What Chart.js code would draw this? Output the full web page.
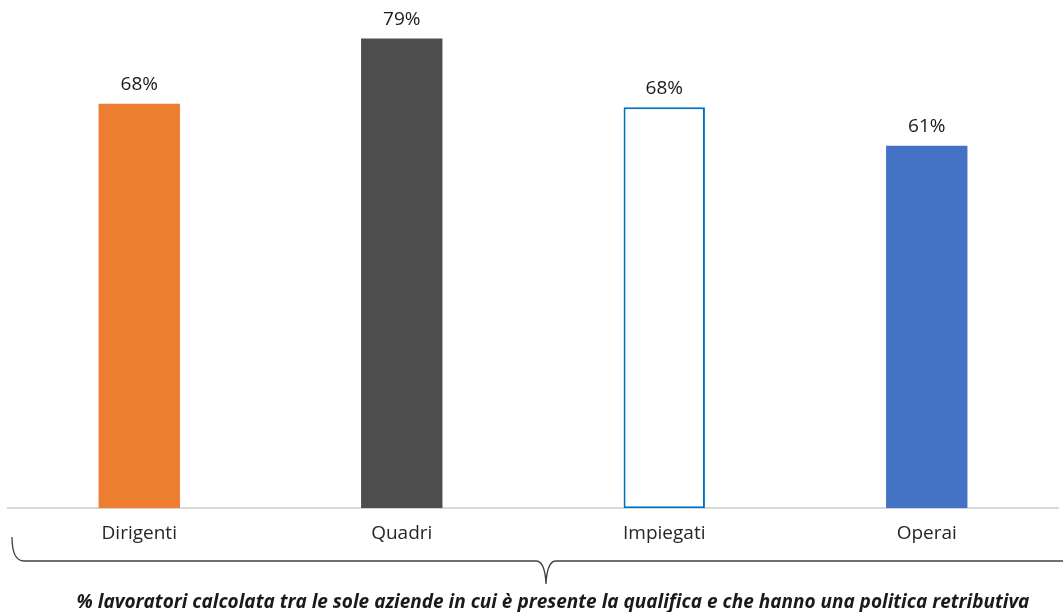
<!DOCTYPE html>
<html>
<head>
<meta charset="utf-8">
<script src="https://cdn.jsdelivr.net/npm/chart.js@4"></script>
<style>
  html,body{margin:0;padding:0;background:#fff;}
  #wrap{position:relative;width:1063px;height:612px;}
  #note{position:absolute;left:0;width:1106px;top:589px;text-align:center;font-family:"Open Sans",sans-serif;font-style:italic;font-weight:bold;font-size:19px;line-height:24px;color:#1a1a1a;white-space:nowrap;}
</style>
</head>
<body>
<div id="wrap">
<canvas id="c" width="1063" height="612"></canvas>
<div id="note">% lavoratori calcolata tra le sole aziende in cui è presente la qualifica e che hanno una politica retributiva</div>
</div>
<script>
const categories = ["Dirigenti", "Quadri", "Impiegati", "Operai"];
const values = [68.2, 79.2, 67.6, 61.1];
const valueLabels = ["68%", "79%", "68%", "61%"];
const fillColors = ["#ED7D31", "#4D4D4D", "#FFFFFF", "#4472C4"];
const borderColors = ["#ED7D31", "#4D4D4D", "#0070C0", "#4472C4"];
const borderWidths = [0, 0, 2, 0];

const labelPlugin = {
  id: "valueLabels",
  afterDatasetsDraw(chart) {
    const ctx = chart.ctx;
    const meta = chart.getDatasetMeta(0);
    ctx.save();
    ctx.font = '19px "Open Sans", sans-serif';
    ctx.fillStyle = "#1a1a1a";
    ctx.textAlign = "center";
    ctx.textBaseline = "middle";
    meta.data.forEach((el, i) => {
      ctx.fillText(valueLabels[i], el.x, el.y - 19);
    });
    ctx.restore();
  }
};

const bracePlugin = {
  id: "brace",
  afterDraw(chart) {
    const ctx = chart.ctx;
    ctx.save();
    ctx.strokeStyle = "#404040";
    ctx.lineWidth = 1.3;
    const y = 561, tipX = 546, tipY = 584;
    ctx.beginPath();
    ctx.moveTo(12, 537);
    ctx.quadraticCurveTo(12, y, 24, y);
    ctx.lineTo(tipX - 10, y);
    ctx.quadraticCurveTo(tipX - 1, y, tipX, tipY);
    ctx.quadraticCurveTo(tipX + 1, y, tipX + 10, y);
    ctx.lineTo(1063, y);
    ctx.stroke();
    ctx.restore();
  }
};

new Chart(document.getElementById("c"), {
  type: "bar",
  data: {
    labels: categories,
    datasets: [{
      data: values,
      backgroundColor: fillColors,
      borderColor: borderColors,
      borderWidth: borderWidths,
      borderSkipped: false,
      barPercentage: 0.62,
      categoryPercentage: 0.5
    }]
  },
  options: {
    responsive: false,
    animation: false,
    events: [],
    layout: { padding: { top: 4, left: 8, right: 5, bottom: 53 } },
    plugins: { legend: { display: false }, tooltip: { enabled: false } },
    scales: {
      y: { display: false, min: 0, max: 85.0 },
      x: {
        grid: { display: false, drawTicks: false },
        border: { display: true, color: "#D9D9D9", width: 2 },
        ticks: { color: "#262626", font: { family: '"Open Sans", sans-serif', size: 19 }, padding: 14 }
      }
    }
  },
  plugins: [labelPlugin, bracePlugin]
});
</script>
</body>
</html>
